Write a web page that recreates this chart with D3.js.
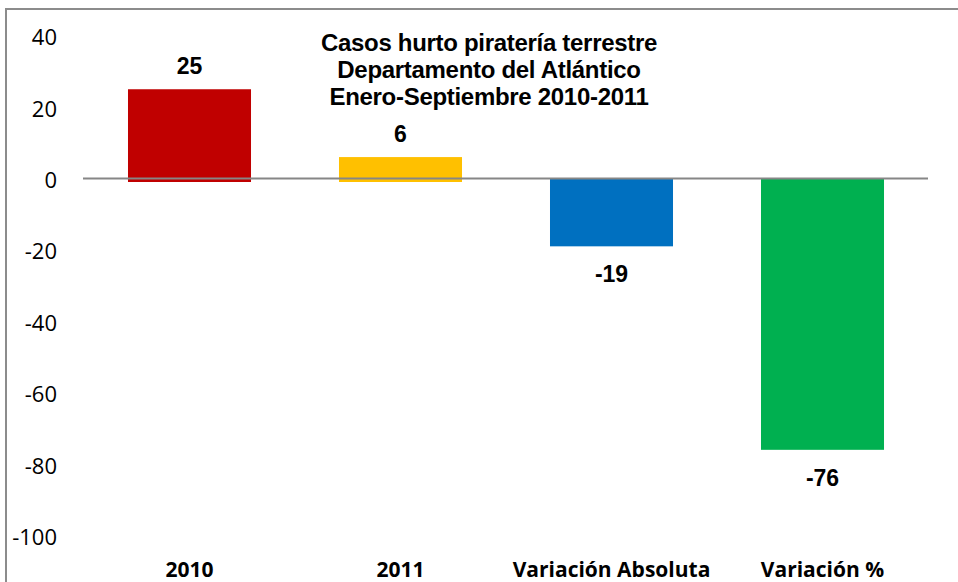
<!DOCTYPE html>
<html>
<head>
<meta charset="utf-8">
<script src="https://cdn.jsdelivr.net/npm/d3@7"></script>
<style>
  body { margin: 0; background: #fff; }
  svg { display: block; }
</style>
</head>
<body>
<svg id="chart" width="958" height="582"></svg>
<script>
const categories = ["2010", "2011", "Variación Absoluta", "Variación %"];
const values = [25, 6, -19, -76];
const colors = ["#c00000", "#ffc000", "#0070c0", "#00b050"];
const yTicks = [40, 20, 0, -20, -40, -60, -80, -100];
const titleLines = ["Casos hurto piratería terrestre", "Departamento del Atlántico", "Enero-Septiembre 2010-2011"];

const svg = d3.select("#chart"),
    width = +svg.attr("width"),
    height = +svg.attr("height");

const x = d3.scaleBand()
    .domain(categories)
    .range([84, 928])
    .paddingInner(0.417)
    .paddingOuter(0.2085);

const y = d3.scaleLinear()
    .domain([-100, 40])
    .range([535.5, 35.7]);

// outer chart border (only left & top visible)
svg.append("path")
    .attr("d", "M6,582V9H958")
    .attr("fill", "none")
    .attr("stroke", "#8c8c8c")
    .attr("stroke-width", 2);

// y axis labels, plain hyphen for negatives
const yAxis = d3.axisLeft(y).tickValues(yTicks).tickSize(0).tickPadding(0)
    .tickFormat(d => String(d));
svg.append("g")
    .attr("transform", "translate(57,2)")
    .call(yAxis)
    .call(g => g.select(".domain").remove())
    .selectAll("text")
        .style("font-family", "'Open Sans', sans-serif")
        .style("font-size", "22px")
        .attr("fill", "#000");

// bars
svg.append("g")
    .selectAll("rect")
    .data(values)
    .join("rect")
        .attr("x", (d, i) => x(categories[i]))
        .attr("width", x.bandwidth())
        .attr("y", d => y(Math.max(d, 0)))
        .attr("height", d => Math.abs(y(d) - y(0)) + (d > 0 ? 3.5 : 0))
        .attr("fill", (d, i) => colors[i]);

// zero line
svg.append("line")
    .attr("x1", 83).attr("x2", 928)
    .attr("y1", y(0)).attr("y2", y(0))
    .attr("stroke", "#868686")
    .attr("stroke-width", 2);

// value labels
svg.append("g")
    .selectAll("text")
    .data(values)
    .join("text")
        .attr("x", (d, i) => x(categories[i]) + x.bandwidth() / 2)
        .attr("y", d => d >= 0 ? y(d) - 15 : y(d) + 36)
        .attr("text-anchor", "middle")
        .style("font-family", "'Liberation Sans', Arial, sans-serif")
        .style("font-weight", "bold")
        .style("font-size", "23px")
        .text(d => d);

// category labels
const xAxis = d3.axisBottom(x).tickSize(0).tickPadding(0);
svg.append("g")
    .attr("transform", "translate(0,562)")
    .call(xAxis)
    .call(g => g.select(".domain").remove())
    .selectAll("text")
        .attr("dy", "0.71em")
        .style("font-family", "'Open Sans', sans-serif")
        .style("font-weight", "bold")
        .style("font-size", "21px")
        .attr("fill", "#000");

// title
svg.append("text")
    .attr("x", 489)
    .attr("text-anchor", "middle")
    .style("font-family", "'Liberation Sans', Arial, sans-serif")
    .style("font-weight", "bold")
    .style("font-size", "24px")
    .style("letter-spacing", "-0.3px")
    .selectAll("tspan")
    .data(titleLines)
    .join("tspan")
        .attr("x", 489)
        .attr("y", (d, i) => 51 + i * 27)
        .text(d => d);
</script>
</body>
</html>
